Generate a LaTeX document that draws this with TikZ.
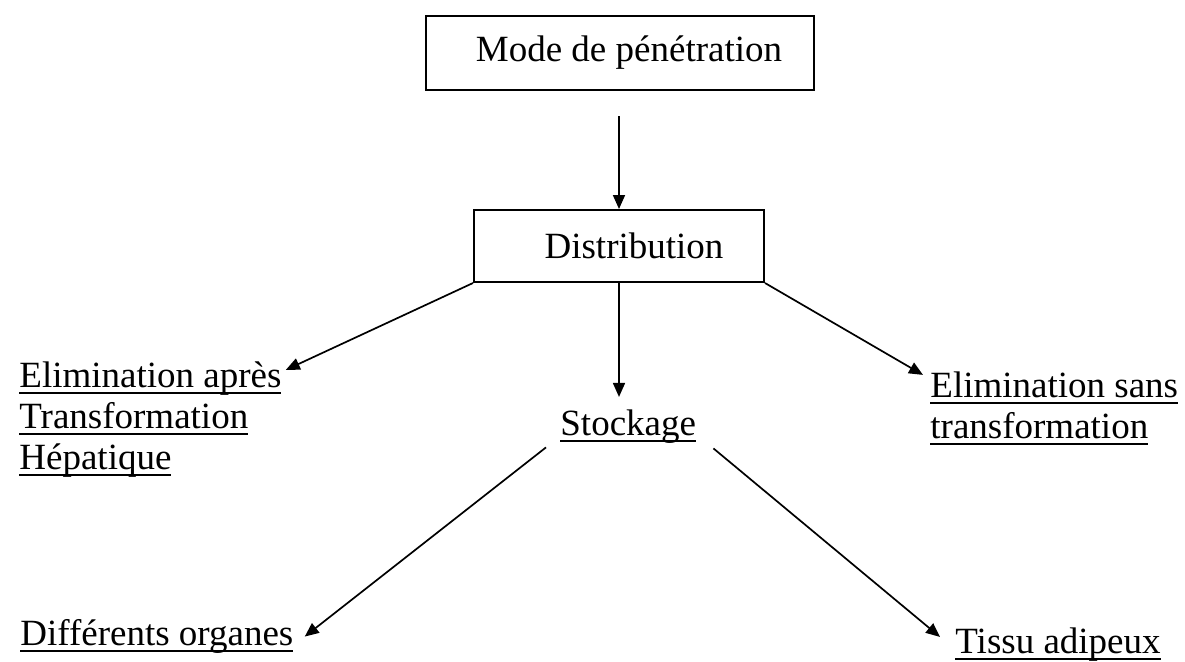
\documentclass[tikz,border=0pt]{standalone}
\usepackage{fontspec}
\setmainfont{Liberation Serif}
\usetikzlibrary{arrows.meta}

\newcommand\souligne[1]{\setbox0\hbox{#1}\rlap{\rule[-0.18em]{\wd0}{0.05em}}\box0}

\begin{document}
\begin{tikzpicture}[x=0.5pt, y=-0.5pt,
  font=\fontsize{18.5pt}{20.5pt}\selectfont,
  boite/.style={draw, rectangle, line width=1pt, inner sep=0pt},
  texte/.style={anchor=base west, inner sep=0pt},
  fleche/.style={line width=0.85pt, -{Triangle[length=7pt,width=6pt]}}]
  \useasboundingbox (0,0) rectangle (1185,661);

  \node[boite, minimum width=194pt, minimum height=37pt] (penetration) at (620,53)
  {\hspace*{9pt}Mode de pénétration};
  \node[boite, minimum width=145pt, minimum height=36pt] (distribution) at (619,246)
  {\hspace*{15pt}Distribution};

  \node[texte] (eliminApres) at (19,387) {\begin{tabular}[t]{@{}l@{}}
      \souligne{Elimination après}\\
      \souligne{Transformation}\\
      \souligne{Hépatique}
    \end{tabular}};
  \node[texte, inner ysep=6pt] (stockage) at (560,435) {\souligne{Stockage}};
  \node[texte] (eliminSans) at (930,397) {\begin{tabular}[t]{@{}l@{}}
      \souligne{Elimination sans}\\
      \souligne{transformation}
    \end{tabular}};
  \node[texte] (organes) at (20,645) {\souligne{Différents organes}};
  \node[texte] (tissus) at (955,653) {\souligne{Tissu adipeux}};

  \draw[fleche, shorten <=12.5pt] (penetration.south -| distribution.north) -- (distribution.north);
  \draw[fleche] (distribution.south west) -- ([xshift=2pt,yshift=-6pt]eliminApres.north east);
  \draw[fleche] (distribution.south) -- (distribution.south |- stockage.north);
  \draw[fleche] (distribution.south east) -- ([xshift=-3.5pt,yshift=-3.5pt]eliminSans.north west);
  \draw[fleche] ([xshift=-7pt,yshift=4pt]stockage.south west) -- ([xshift=5.5pt,yshift=-9pt]organes.north east);
  \draw[fleche] ([xshift=8.5pt,yshift=3.5pt]stockage.south east) -- ([xshift=-7.5pt,yshift=-5pt]tissus.north west);
\end{tikzpicture}
\end{document}
